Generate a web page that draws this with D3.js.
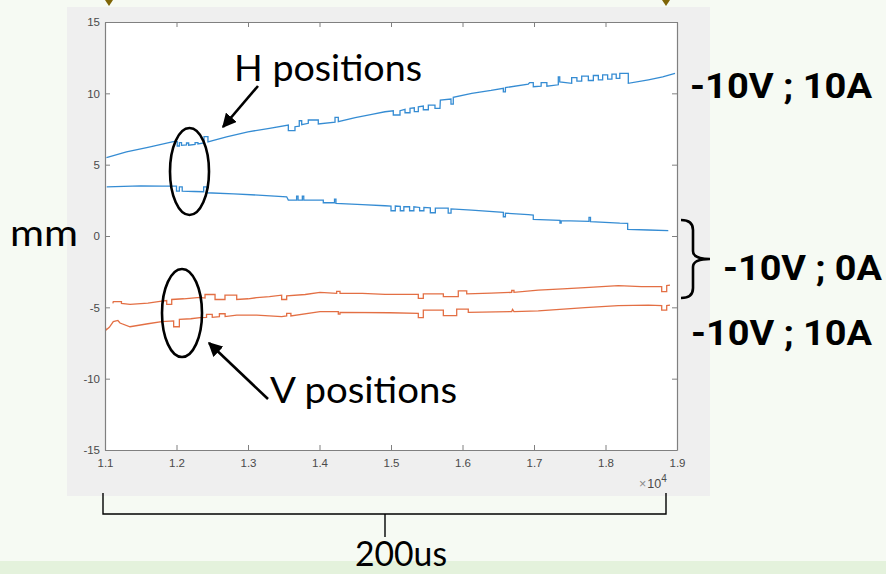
<!DOCTYPE html>
<html>
<head>
<meta charset="utf-8">
<script src="https://cdn.jsdelivr.net/npm/d3@7"></script>
<style>
  html, body { margin: 0; padding: 0; background: #f6faf3; }
  svg { display: block; }
</style>
</head>
<body>
<svg id="chart" width="886" height="574"></svg>
<script>
// ---- axis settings ----
const xDomain = [11000, 19000];
const yDomain = [-15, 15];
const xTicks = [11000, 12000, 13000, 14000, 15000, 16000, 17000, 18000, 19000];
const yTicks = [-15, -10, -5, 0, 5, 10, 15];
const xExponent = 4;

// ---- measured traces: [sample, mm] ----
// H position, -10V ; 10A
const hTop = [
  [11020, 5.50], [11300, 5.90], [11600, 6.22], [11955, 6.61],
  [12010, 6.61], [12010, 6.31], [12040, 6.31], [12040, 6.55], [12070, 6.55], [12070, 6.35],
  [12140, 6.38], [12140, 6.52], [12170, 6.52], [12170, 6.36], [12260, 6.42], [12260, 6.55],
  [12300, 6.55], [12300, 6.45], [12385, 6.52], [12385, 6.96], [12440, 6.96], [12440, 6.60],
  [12700, 6.95], [13000, 7.30], [13300, 7.55], [13564, 7.78],
  [13564, 7.38], [13657, 7.38], [13657, 7.66], [13717, 7.70], [13717, 8.08], [13751, 8.08],
  [13751, 7.80], [13843, 7.90], [13843, 8.13], [13983, 8.13], [13983, 7.85], [14217, 7.98],
  [14217, 8.32], [14263, 8.32], [14263, 8.01], [14500, 8.30], [14750, 8.55], [14916, 8.71],
  [15032, 8.78], [15032, 8.48], [15126, 8.48], [15126, 8.78], [15196, 8.88], [15196, 8.64],
  [15266, 8.64], [15266, 8.95], [15326, 8.99], [15326, 8.72], [15382, 8.72], [15382, 9.06],
  [15452, 9.11], [15452, 8.85], [15522, 8.85], [15522, 9.18], [15615, 9.18], [15615, 8.95],
  [15685, 8.95], [15690, 9.53], [15839, 9.60], [15839, 9.25], [15871, 9.25], [15871, 9.72],
  [16129, 10.00], [16400, 10.20], [16571, 10.35], [16571, 10.10], [16600, 10.10], [16600, 10.40],
  [16920, 10.65], [16940, 10.75], [16990, 10.75], [16990, 10.46], [17100, 10.50], [17100, 10.75],
  [17180, 10.75], [17180, 10.50], [17340, 10.60], [17340, 11.16], [17360, 11.16], [17360, 10.80],
  [17527, 10.70], [17527, 11.10], [17600, 11.10], [17600, 10.85], [17667, 10.85], [17667, 11.20],
  [17760, 11.20], [17760, 10.90], [17830, 10.90], [17830, 11.25], [17900, 11.25], [17900, 10.95],
  [17960, 10.95], [17960, 11.30], [18030, 11.30], [18030, 11.00], [18090, 11.00], [18090, 11.35],
  [18150, 11.35], [18150, 11.05], [18200, 11.05], [18200, 11.40], [18319, 11.40], [18319, 10.70],
  [18600, 10.95], [18800, 11.15], [18972, 11.40]
];

// H position, -10V ; 0A
const hBot = [
  [11024, 3.45], [11500, 3.52], [11800, 3.50], [12000, 3.50], [12000, 3.15], [12040, 3.15],
  [12040, 3.45], [12080, 3.45], [12080, 3.15], [12250, 3.12], [12380, 3.10], [12380, 3.45],
  [12420, 3.45], [12420, 3.03], [12800, 2.95], [13200, 2.85], [13541, 2.75], [13564, 2.52],
  [13680, 2.52], [13680, 2.80], [13700, 2.80], [13700, 2.52], [13760, 2.52], [13760, 2.80],
  [13780, 2.80], [13780, 2.52], [14053, 2.52], [14053, 2.33], [14210, 2.33], [14210, 2.58],
  [14230, 2.58], [14230, 2.29], [14600, 2.20], [14916, 2.12],
  [15000, 2.10], [15000, 1.77], [15060, 1.77], [15060, 2.10], [15130, 2.08], [15130, 1.77],
  [15180, 1.77], [15180, 2.05], [15260, 2.05], [15260, 1.77], [15320, 1.77], [15320, 2.05],
  [15400, 2.00], [15400, 1.77], [15460, 1.77], [15460, 2.00], [15550, 1.98], [15550, 1.63],
  [15620, 1.63], [15620, 1.95], [15800, 1.95], [15800, 1.60], [15840, 1.60], [15840, 1.90],
  [16129, 1.82], [16571, 1.65], [16571, 1.35], [16600, 1.35], [16600, 1.60], [16920, 1.50],
  [16990, 1.47], [16990, 1.17], [17363, 1.10], [17363, 0.90], [17380, 0.90], [17380, 1.08],
  [17769, 1.02], [17769, 1.30], [17790, 1.30], [17790, 1.00], [18200, 0.90], [18310, 0.89],
  [18310, 0.47], [18600, 0.42], [18878, 0.37]
];

// V position, -10V ; 0A
const vTop = [
  [11110, -4.72], [11116, -4.60], [11230, -4.60], [11230, -4.72], [11350, -4.79], [11600, -4.70],
  [11793, -4.56], [11863, -4.52], [11863, -4.79], [11933, -4.79], [11933, -4.45], [12100, -4.40],
  [12329, -4.30], [12399, -4.35], [12399, -4.10], [12539, -4.10], [12539, -4.45], [12678, -4.45],
  [12678, -4.15], [12842, -4.15], [12842, -4.45], [13000, -4.40], [13122, -4.32], [13300, -4.25],
  [13471, -4.15], [13471, -4.45], [13541, -4.45], [13541, -4.20], [13800, -4.10], [14007, -3.95],
  [14240, -4.02], [14240, -3.88], [14287, -3.88], [14287, -4.02], [14600, -4.02], [14916, -4.09],
  [15382, -4.09], [15382, -4.37], [15452, -4.37], [15452, -4.05], [15732, -4.05], [15732, -4.25],
  [15941, -4.25], [15941, -3.85], [16059, -3.85], [16059, -4.05], [16400, -4.00], [16688, -3.95],
  [16688, -3.82], [16720, -3.82], [16720, -3.95], [17060, -3.80], [17400, -3.70], [17713, -3.62],
  [18179, -3.48], [18500, -3.55], [18786, -3.55], [18786, -3.90], [18856, -3.90], [18856, -3.48],
  [18902, -3.45]
];

// V position, -10V ; 10A
const vBot = [
  [11000, -6.30], [11014, -6.59], [11060, -6.40], [11116, -6.00], [11180, -5.92], [11210, -6.10],
  [11350, -6.36], [11600, -6.15], [11793, -6.00], [11960, -5.95], [11960, -6.36], [12040, -6.36],
  [12040, -5.85], [12200, -5.80], [12329, -5.72], [12420, -5.70], [12420, -5.50], [12500, -5.50],
  [12500, -5.70], [12600, -5.65], [12600, -5.45], [12680, -5.45], [12680, -5.65], [12842, -5.54],
  [13122, -5.55], [13471, -5.65], [13541, -5.60], [13541, -5.42], [13600, -5.42], [13600, -5.60],
  [14007, -5.30], [14263, -5.30], [14263, -5.48], [14287, -5.48], [14287, -5.35], [14986, -5.38],
  [15382, -5.42], [15382, -5.72], [15452, -5.72], [15452, -5.19], [15732, -5.19], [15732, -5.58],
  [15919, -5.58], [15919, -5.12], [16081, -5.12], [16081, -5.35], [16688, -5.30], [16700, -5.15],
  [16720, -5.30], [17060, -5.25], [17713, -5.02], [18179, -4.88], [18600, -4.85], [18786, -4.88],
  [18786, -5.19], [18856, -5.19], [18856, -4.88], [18902, -4.85]
];

const series = [
  { data: hTop, color: "#2a86d1" },
  { data: hBot, color: "#2a86d1" },
  { data: vTop, color: "#e2673a" },
  { data: vBot, color: "#e2673a" }
];

// ---- layout ----
const svg = d3.select("#chart");
const W = 886, H = 574;
const plot = { left: 105, top: 22, right: 677, bottom: 450 };

svg.append("rect").attr("width", W).attr("height", H).attr("fill", "#f6faf3");
svg.append("rect").attr("x", 0).attr("y", 561).attr("width", W).attr("height", H - 561).attr("fill", "#e4f2dc");

// small slide markers along the top edge
[109, 666].forEach(cx => {
  svg.append("path")
    .attr("d", `M${cx - 4},0 L${cx + 4},0 L${cx},6 Z`)
    .attr("fill", "#7f6506");
});

// figure panel
svg.append("rect").attr("x", 67).attr("y", 7).attr("width", 643).attr("height", 489).attr("fill", "#efefef");
svg.append("rect")
  .attr("x", plot.left).attr("y", plot.top)
  .attr("width", plot.right - plot.left).attr("height", plot.bottom - plot.top)
  .attr("fill", "#ffffff");

const x = d3.scaleLinear().domain(xDomain).range([plot.left, plot.right]);
const y = d3.scaleLinear().domain(yDomain).range([plot.bottom, plot.top]);

svg.append("clipPath").attr("id", "plotClip")
  .append("rect")
  .attr("x", plot.left).attr("y", plot.top)
  .attr("width", plot.right - plot.left).attr("height", plot.bottom - plot.top);

const line = d3.line().x(d => x(d[0])).y(d => y(d[1]));

svg.append("g").attr("clip-path", "url(#plotClip)")
  .selectAll("path").data(series).join("path")
  .attr("d", d => line(d.data))
  .attr("fill", "none")
  .attr("stroke", d => d.color)
  .attr("stroke-width", 1.3)
  .attr("stroke-linejoin", "miter")
  .attr("opacity", 0.95);

// ---- axes (box with inward ticks) ----
const axisColor = "#808080";
const labelColor = "#4a4a4a";
const fmtX = d => (d / Math.pow(10, xExponent)).toFixed(1);
const fmtY = d => String(d);   // plain hyphen-minus

function styleAxis(g) {
  g.selectAll("path.domain").attr("stroke", axisColor).attr("stroke-width", 1.2);
  g.selectAll(".tick line").attr("stroke", axisColor).attr("stroke-width", 1);
  g.selectAll(".tick text")
    .attr("fill", labelColor)
    .attr("font-family", "'Liberation Sans', Arial, sans-serif")
    .attr("font-size", 11.5);
}

svg.append("g").attr("transform", `translate(0,${plot.bottom})`)
  .call(d3.axisBottom(x).tickValues(xTicks).tickFormat(fmtX).tickSizeInner(-5).tickSizeOuter(0).tickPadding(9))
  .call(styleAxis);
svg.append("g").attr("transform", `translate(0,${plot.top})`)
  .call(d3.axisTop(x).tickValues(xTicks).tickFormat("").tickSizeInner(-5).tickSizeOuter(0))
  .call(styleAxis);
svg.append("g").attr("transform", `translate(${plot.left},0)`)
  .call(d3.axisLeft(y).tickValues(yTicks).tickFormat(fmtY).tickSizeInner(-5).tickSizeOuter(0).tickPadding(5))
  .call(styleAxis);
svg.append("g").attr("transform", `translate(${plot.right},0)`)
  .call(d3.axisRight(y).tickValues(yTicks).tickFormat("").tickSizeInner(-5).tickSizeOuter(0))
  .call(styleAxis);

// exponent label under the x axis
const expo = svg.append("text")
  .attr("x", 639).attr("y", 488)
  .attr("fill", labelColor)
  .attr("font-family", "'Liberation Sans', Arial, sans-serif")
  .attr("font-size", 12.5);
expo.append("tspan").attr("fill", "#8a8a8a").text("\u00d7");
expo.append("tspan").attr("dx", 1).text("10");
expo.append("tspan").attr("dy", -6).attr("font-size", 10).text(String(xExponent));

// ---- annotations ----
const thinFont = "Lato, 'Open Sans', sans-serif";
const boldFont = "Roboto, 'Liberation Sans', Arial, sans-serif";

function label(txt, x0, base, len, size, family, weight) {
  svg.append("text")
    .attr("x", x0).attr("y", base)
    .attr("font-family", family)
    .attr("font-weight", weight)
    .attr("font-size", size)
    .attr("fill", "#000")
    .attr("textLength", len)
    .attr("lengthAdjust", "spacingAndGlyphs")
    .text(txt);
}

label("H positions", 234, 81, 188, 37, thinFont, 400);
label("V positions", 270, 403, 187, 37, thinFont, 400);
label("mm", 10, 246, 68, 37, thinFont, 400);
label("200us", 355, 566, 92, 35, thinFont, 400);

label("-10V ; 10A", 690, 98, 182, 35, boldFont, 700);
label("-10V ; 0A", 723, 280, 159, 35, boldFont, 700);
label("-10V ; 10A", 691, 345, 181, 35, boldFont, 700);

// ellipses around the highlighted region
svg.append("ellipse").attr("cx", 189.5).attr("cy", 171.5).attr("rx", 19.5).attr("ry", 43.5)
  .attr("fill", "none").attr("stroke", "#000").attr("stroke-width", 2.6);
svg.append("ellipse").attr("cx", 182).attr("cy", 313).attr("rx", 20).attr("ry", 44)
  .attr("fill", "none").attr("stroke", "#000").attr("stroke-width", 2.6);

// arrows
const defs = svg.append("defs");
defs.append("marker")
  .attr("id", "arrowHead")
  .attr("viewBox", "0 0 10 10")
  .attr("refX", 9).attr("refY", 5)
  .attr("markerWidth", 5.5).attr("markerHeight", 5.5)
  .attr("markerUnits", "strokeWidth")
  .attr("orient", "auto")
  .append("path").attr("d", "M0,0 L10,5 L0,10 Z").attr("fill", "#000");

svg.append("line").attr("x1", 258).attr("y1", 86).attr("x2", 223).attr("y2", 127)
  .attr("stroke", "#000").attr("stroke-width", 2.6).attr("marker-end", "url(#arrowHead)");
svg.append("line").attr("x1", 268).attr("y1", 399).attr("x2", 209).attr("y2", 343)
  .attr("stroke", "#000").attr("stroke-width", 2.6).attr("marker-end", "url(#arrowHead)");

// curly brace grouping the 0A traces
svg.append("path")
  .attr("d", "M681,220 Q693,220 693,230 L693,251 Q693,259 710,259 Q693,259 693,267 L693,288 Q693,298 681,298")
  .attr("fill", "none").attr("stroke", "#000").attr("stroke-width", 2.6);

// time span bracket under the axis
svg.append("path")
  .attr("d", `M${x(11000) - 2},493 V514 H${x(19000) - 11} V493`)
  .attr("fill", "none").attr("stroke", "#000").attr("stroke-width", 1.4);
svg.append("line").attr("x1", 385).attr("y1", 514).attr("x2", 385).attr("y2", 537)
  .attr("stroke", "#000").attr("stroke-width", 1.4);
</script>
</body>
</html>
